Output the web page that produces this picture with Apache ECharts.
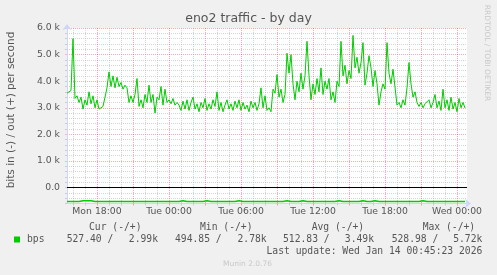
<!DOCTYPE html>
<html><head><meta charset="utf-8">
<script src="https://cdn.jsdelivr.net/npm/echarts@6/dist/echarts.min.js"></script>
<style>html,body{margin:0;padding:0;background:#F0F0F0;}#chart{width:497px;height:275px;}</style>
</head><body><div id="chart"></div>
<script>
// ---------- data ----------
const chartTitle = 'eno2 traffic - by day';
const yAxisName = 'bits in (-) / out (+) per second';
const seriesName = 'bps';
const dayNames = ['Mon', 'Tue', 'Wed'];
const startMinute = 15 * 60 + 30;   // Mon 15:30
const stepMinutes = 10;
const pointCount = 201;
const xTickLabels = ['Mon 18:00', 'Tue 00:00', 'Tue 06:00', 'Tue 12:00', 'Tue 18:00', 'Wed 00:00'];
const yTickLabels = ['0.0', '1.0 k', '2.0 k', '3.0 k', '4.0 k', '5.0 k', '6.0 k'];

// out (+) traffic, bits per second, every 10 minutes
const outBps = [
  3550,3500,3650,5600,3350,3450,3200,3400,2950,3300,
  3100,3600,3150,3450,3000,3300,2950,3000,3050,3100,
  3750,4350,3800,4200,3750,4150,3800,3950,3700,3850,
  3750,3200,3450,3200,3500,4100,3050,3300,3000,3500,
  3200,3850,3200,3500,2800,3400,3300,3800,3100,3700,
  3200,3300,3150,3350,3100,3200,3100,2900,3250,2950,
  3300,2900,3200,3400,2950,3150,2850,3200,3000,3350,
  2900,3150,2950,3300,3050,3600,2900,3200,2850,3100,
  3300,2950,3150,2900,3250,3000,3300,2900,3200,2950,
  3100,2850,3250,3000,3200,2900,3150,3750,3000,3450,
  2900,3000,2850,3700,3550,4250,3400,3700,3200,3500,
  5050,4300,5000,3900,3300,4000,3600,4300,3700,4200,
  5500,4200,3300,3900,3500,4100,3600,4500,3500,4000,
  3700,4100,3300,3600,3200,4000,3800,5500,4200,4600,
  3900,4400,4100,5720,4500,4900,4300,4700,5450,3850,
  4300,4960,4500,3800,4400,3900,3100,3600,3900,3700,
  5450,4300,3900,4450,4400,3100,3200,3000,3300,3100,
  3750,4700,3900,3400,3600,3200,3050,3200,3000,3150,
  3100,3300,3000,3200,3500,3000,3250,2900,3700,3000,
  3300,2900,3400,2950,3200,2850,3350,3000,3200,2990
];
// in (-) traffic, drawn negative
const inBps = [
  -525,-526,-524,-527,-525,-526,-524,-525,-497,-526,
  -497,-525,-497,-526,-525,-497,-524,-526,-525,-527,
  -525,-497,-526,-524,-525,-527,-525,-526,-524,-525,
  -526,-525,-527,-524,-525,-497,-526,-525,-524,-526,
  -525,-527,-524,-525,-526,-525,-524,-497,-526,-525,
  -524,-526,-525,-527,-525,-524,-526,-525,-497,-524,
  -525,-526,-524,-497,-525,-527,-525,-524,-526,-525,
  -497,-524,-526,-525,-527,-497,-525,-524,-526,-525,
  -524,-497,-525,-526,-524,-525,-497,-526,-525,-524,
  -526,-497,-525,-524,-527,-525,-526,-497,-524,-525,
  -526,-524,-525,-527,-525,-497,-526,-524,-525,-526,
  -497,-525,-524,-497,-526,-525,-527,-524,-497,-525,
  -526,-497,-525,-524,-526,-525,-527,-524,-525,-497,
  -525,-526,-524,-525,-527,-525,-497,-524,-526,-525,
  -524,-526,-525,-497,-525,-524,-526,-525,-497,-524,
  -525,-526,-524,-527,-497,-525,-526,-524,-525,-526,
  -525,-524,-526,-525,-527,-524,-525,-526,-524,-525,
  -526,-525,-524,-497,-525,-497,-526,-524,-497,-525,
  -524,-526,-525,-527,-524,-497,-525,-526,-524,-525,
  -526,-497,-525,-524,-526,-525,-524,-497,-525,-527
];
const statHeaders = ['Cur (-/+)', 'Min (-/+)', 'Avg (-/+)', 'Max (-/+)'];
const statIn = ['527.40', '494.85', '512.83', '528.98'];
const statOut = ['2.99k', '2.78k', '3.49k', '5.72k'];
const lastUpdate = 'Last update: Wed Jan 14 00:45:23 2026';
const footer = 'Munin 2.0.76';
const watermark = 'RRDTOOL / TOBI OETIKER';

// ---------- categories ----------
function pad(n) { return (n < 10 ? '0' : '') + n; }
const categories = [];
for (let i = 0; i < pointCount; i++) {
  const m = startMinute + i * stepMinutes;
  categories.push(dayNames[Math.floor(m / 1440)] + ' ' + pad(Math.floor((m % 1440) / 60)) + ':' + pad(m % 60));
}
function hourOf(v) { return parseInt(v.slice(4, 6), 10); }
function minOf(v) { return parseInt(v.slice(7, 9), 10); }
const isMajor = (i, v) => minOf(v) === 0 && hourOf(v) % 3 === 0;
const isMinor = (i, v) => minOf(v) === 0 && hourOf(v) % 3 !== 0;
const isLabel = (i, v) => xTickLabels.indexOf(v) >= 0;

// ---------- styles ----------
const FONT = 'DejaVu Sans';
const MONO = 'DejaVu Sans Mono';
const TXT = '#555555';
const AXIS = '#CFD6F8';
const MGRID = 'rgba(255,0,0,0.33)';
const GRID = 'rgba(150,150,150,0.4)';
const GREEN = '#00CC00';

const monoText = (text, x, y, align) => ({
  type: 'text', x: x, y: y, silent: true,
  style: { text: text, fill: TXT, fontFamily: MONO, fontSize: 9.7, align: align || 'left', verticalAlign: 'middle' }
});

const graphics = [
  { type: 'text', x: 11, y: 110, rotation: Math.PI / 2, silent: true,
    style: { text: yAxisName, fill: TXT, fontFamily: FONT, fontSize: 10.5, align: 'center', verticalAlign: 'middle' } },
  { type: 'text', x: 487, y: 53, rotation: -Math.PI / 2, silent: true,
    style: { text: watermark, fill: '#C8C8C8', fontFamily: FONT, fontSize: 7.5, align: 'center', verticalAlign: 'middle' } },
  { type: 'text', x: 247.5, y: 264, silent: true,
    style: { text: footer, fill: '#C8C8C8', fontFamily: FONT, fontSize: 7.5, align: 'center', verticalAlign: 'middle' } },
  monoText(lastUpdate, 482.3, 251, 'right')
];
const headerX = [89, 200, 311.7, 422.7];
const inX = [66.7, 175, 283, 391.7];
const outRightX = [158, 266.7, 374, 482.3];
for (let k = 0; k < 4; k++) {
  graphics.push(monoText(statHeaders[k], headerX[k], 227.7));
  graphics.push(monoText(statIn[k] + ' /', inX[k], 239.3));
  graphics.push(monoText(statOut[k], outRightX[k], 239.3, 'right'));
}

const option = {
  animation: false,
  backgroundColor: '#F0F0F0',
  title: {
    text: chartTitle, left: 'center', top: 12, padding: 0,
    textStyle: { fontFamily: FONT, fontSize: 12.5, fontWeight: 'normal', color: TXT, lineHeight: 14 }
  },
  legend: {
    data: [seriesName], left: 14, top: 233.5, padding: 0,
    icon: 'rect', itemWidth: 6, itemHeight: 6,
    textStyle: { fontFamily: MONO, fontSize: 9.7, color: TXT, lineHeight: 12, padding: [0, 0, 0, 2] },
    selectedMode: false
  },
  grid: { left: 67, right: 30, top: 28, bottom: 71.5, show: true, backgroundColor: '#FFFFFF', borderWidth: 0 },
  xAxis: [
    {
      type: 'category', data: categories, boundaryGap: false, position: 'bottom',
      axisLine: { onZero: false, lineStyle: { color: AXIS, width: 1 }, symbol: ['none', 'arrow'], symbolSize: [7, 6], symbolOffset: [0, 4] },
      axisTick: { show: true, length: 2, interval: isMajor, lineStyle: { color: MGRID } },
      axisLabel: { interval: isLabel, color: TXT, fontFamily: FONT, fontSize: 9.3, margin: 3, lineHeight: 11 },
      splitLine: { show: true, interval: isMajor, lineStyle: { color: MGRID, type: [1, 1], width: 1 } }
    },
    {
      type: 'category', data: categories, boundaryGap: false, position: 'bottom',
      axisLine: { show: false, onZero: false },
      axisTick: { show: true, length: 2, interval: isMinor, lineStyle: { color: GRID } },
      axisLabel: { show: false },
      splitLine: { show: true, interval: isMinor, lineStyle: { color: GRID, type: [1, 1], width: 1 } }
    }
  ],
  yAxis: {
    type: 'value', min: -600, max: 6000, interval: 200,
    axisLine: { show: true, lineStyle: { color: AXIS, width: 1 }, symbol: ['none', 'arrow'], symbolSize: [7, 6], symbolOffset: [0, 4] },
    axisTick: { show: true, length: 2, lineStyle: { color: GRID } },
    axisLabel: {
      color: TXT, fontFamily: FONT, fontSize: 9.3, margin: 7,
      formatter: v => (v >= 0 && v % 1000 === 0) ? yTickLabels[v / 1000] : ''
    },
    splitLine: { show: true, lineStyle: { color: [GRID, GRID, GRID, MGRID, GRID], type: [1, 1], width: 1 } }
  },
  series: [
    {
      name: seriesName, type: 'line', data: outBps, xAxisIndex: 0,
      showSymbol: false, symbol: 'none', lineStyle: { color: GREEN, width: 1 }, itemStyle: { color: GREEN },
      z: 3,
      markLine: {
        silent: true, symbol: ['none', 'none'], label: { show: false },
        lineStyle: { color: '#000000', type: 'solid', width: 1 },
        data: [{ yAxis: 0 }]
      }
    },
    {
      name: seriesName, type: 'line', data: inBps, xAxisIndex: 0,
      showSymbol: false, symbol: 'none', lineStyle: { color: GREEN, width: 1.4 }, itemStyle: { color: GREEN }, z: 5
    }
  ],
  graphic: graphics
};
const chart = echarts.init(document.getElementById('chart'), null, { renderer: 'canvas' });
chart.setOption(option);
</script></body></html>
